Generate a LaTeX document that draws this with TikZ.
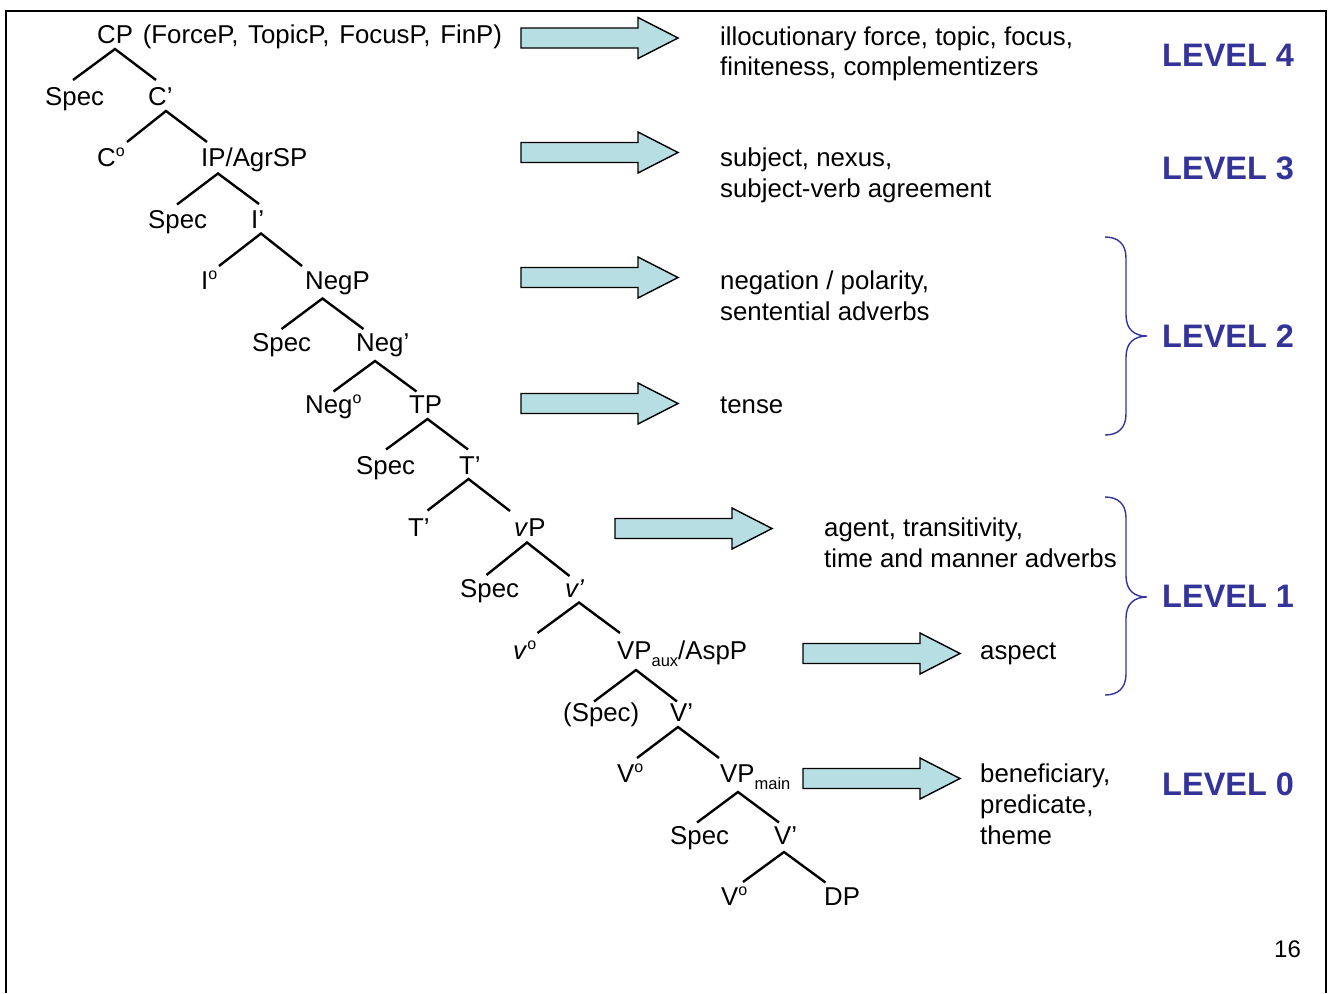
\documentclass[tikz,border=0pt]{standalone}
\usepackage{fontspec}
\setmainfont{Liberation Sans}
\definecolor{levelblue}{RGB}{51,51,153}
\definecolor{arrowfill}{RGB}{183,222,226}
% raised small "o" for head positions and lowered subscripts
\newcommand\supo{\raisebox{10pt}{\fontsize{16}{16}\selectfont o}}
\newcommand\lowsub[1]{\raisebox{-7pt}{\fontsize{16.5}{16.5}\selectfont #1}}
% stacked lines whose baseline is that of the first line
\newcommand\lines[1]{\vtop{\halign{##\hfil\cr#1\crcr}}}
\begin{document}
\begin{tikzpicture}[x=1pt,y=-1pt,
  lbl/.style={inner sep=0pt, anchor=base west, font=\fontsize{25.8}{30.7}\selectfont},
  note/.style={lbl},
  level/.style={inner sep=0pt, anchor=base west, text=levelblue,
    font=\fontsize{32.5}{36}\selectfont\bfseries},
  branch/.style={line width=2.4pt},
  curly/.style={draw=levelblue, line width=1.4pt},
  blockarrow/.style={draw=black, line width=1.4pt, fill=arrowfill, line join=miter},
  pics/fatarrow/.style={code={
    \path[blockarrow] (0,-10) -- (117,-10) -- (117,-20.5) -- (157,0)
      -- (117,20.5) -- (117,10) -- (0,10) -- cycle;}}
]
\useasboundingbox (0,0) rectangle (1329,993);
\fill[white] (0,0) rectangle (1329,993);
% frame
\draw[line width=2pt] (6,993) -- (6,11) -- (1326,11) -- (1326,993);

% tree labels, one row per level
\node[lbl] (cp) at (97,43.5) {\spaceskip=9.8pt CP (ForceP, TopicP, FocusP, FinP)};
\node[lbl] (spec1) at (45,105.1) {Spec};
\node[lbl] (cbar) at (148,105.1) {C’};
\node[lbl] (c0) at (97,166.7) {C\supo};
\node[lbl] (ip) at (201,166.7) {IP/AgrSP};
\node[lbl] (spec2) at (148,228.3) {Spec};
\node[lbl] (ibar) at (251,228.3) {I’};
\node[lbl] (i0) at (201,289.9) {I\supo};
\node[lbl] (negp) at (305,289.9) {NegP};
\node[lbl] (spec3) at (252,351.5) {Spec};
\node[lbl] (negbar) at (356,351.5) {Neg’};
\node[lbl] (neg0) at (305,413.1) {Neg\supo};
\node[lbl] (tp) at (409,413.1) {TP};
\node[lbl] (spec4) at (356,474.7) {Spec};
\node[lbl] (tbar) at (459,474.7) {T’};
\node[lbl] (tbarb) at (408,536.3) {T’};
\node[lbl] (vp) at (514,536.3) {\textit{v}P};
\node[lbl] (spec5) at (460,597.9) {Spec};
\node[lbl] (vbar) at (565,597.9) {\textit{v’}};
\node[lbl] (v0) at (513,659.5) {\textit{v}\supo};
\node[lbl] (vpaux) at (617,659.5) {VP\lowsub{aux}/AspP};
\node[lbl] (spec6) at (563,721.1) {(Spec)};
\node[lbl] (Vbar) at (670,721.1) {V’};
\node[lbl] (V0) at (617,782.7) {V\supo};
\node[lbl] (vpmain) at (720,782.7) {VP\lowsub{main}};
\node[lbl] (spec7) at (670,844.3) {Spec};
\node[lbl] (Vbarb) at (774,844.3) {V’};
\node[lbl] (V0b) at (721,905.9) {V\supo};
\node[lbl] (dp) at (824,905.9) {DP};

% branches: apex, left foot, right foot
\foreach \n/\ax/\ay/\lx/\ly/\rx/\ry in {
  1/115/49/73/80/156/80,
  2/166/111/127/142/207/142,
  3/218/173.5/177/204.5/259/204,
  4/261/233.5/219/266/302/266,
  5/322.5/298.5/281.5/329/363.5/329,
  6/375/361/333.5/391.5/416.5/391.5,
  7/427.5/419/386/449.5/468/449.5,
  8/468.5/479/427.5/510.5/510/511,
  9/527/542.5/486.5/575/569.5/576,
  10/579/602.5/537.5/633/620/633,
  11/636/670/594/701.5/677/701.5,
  12/678/727/637/758/719/758,
  13/738/792/697/822.5/779/822.5,
  14/784/852/743/882/825.5/882.5}{
  \coordinate (top\n) at (\ax,\ay);
  \coordinate (left\n) at (\lx,\ly);
  \coordinate (right\n) at (\rx,\ry);
  \draw[branch] (left\n) -- (top\n) -- (right\n);
}

% block arrows
\pic at (521,38) {fatarrow};
\pic at (521,152.5) {fatarrow};
\pic at (521,277.5) {fatarrow};
\pic at (521,403.5) {fatarrow};
\pic at (615,528.5) {fatarrow};
\pic at (803,653.5) {fatarrow};
\pic at (803,778.5) {fatarrow};

% functions of each layer
\node[note] (f4) at (720,45) {\lines{illocutionary force, topic, focus,\cr finiteness, complementizers}};
\node[note] (f3) at (720,166.7) {\lines{subject, nexus,\cr subject-verb agreement}};
\node[note] (f2a) at (720,289.9) {\lines{negation / polarity,\cr sentential adverbs}};
\node[note] (f2b) at (720,413.1) {tense};
\node[note] (f1a) at (824,536.3) {\lines{agent, transitivity,\cr time and manner adverbs}};
\node[note] (f1b) at (980,659.5) {aspect};
\node[note] (f0) at (980,782.7) {\lines{beneficiary,\cr predicate,\cr theme}};

% braces
\draw[curly] (1105,237) .. controls (1118,237) and (1126,244) .. (1126,258)
  -- (1126,315) .. controls (1126,329) and (1134,336) .. (1147,336)
  .. controls (1134,336) and (1126,343) .. (1126,357)
  -- (1126,414) .. controls (1126,428) and (1118,435) .. (1105,435);
\draw[curly] (1105,497) .. controls (1118,497) and (1126,504) .. (1126,518)
  -- (1126,576) .. controls (1126,590) and (1134,597) .. (1147,597)
  .. controls (1134,597) and (1126,604) .. (1126,618)
  -- (1126,674) .. controls (1126,688) and (1118,695) .. (1105,695);

% level labels
\node[level] (lv4) at (1162,66) {LEVEL 4};
\node[level] (lv3) at (1162,179) {LEVEL 3};
\node[level] (lv2) at (1162,347) {LEVEL 2};
\node[level] (lv1) at (1162,607) {LEVEL 1};
\node[level] (lv0) at (1162,795) {LEVEL 0};

% slide number
\node[lbl, font=\fontsize{24}{28}\selectfont] (pg) at (1274,957) {16};
\end{tikzpicture}
\end{document}
